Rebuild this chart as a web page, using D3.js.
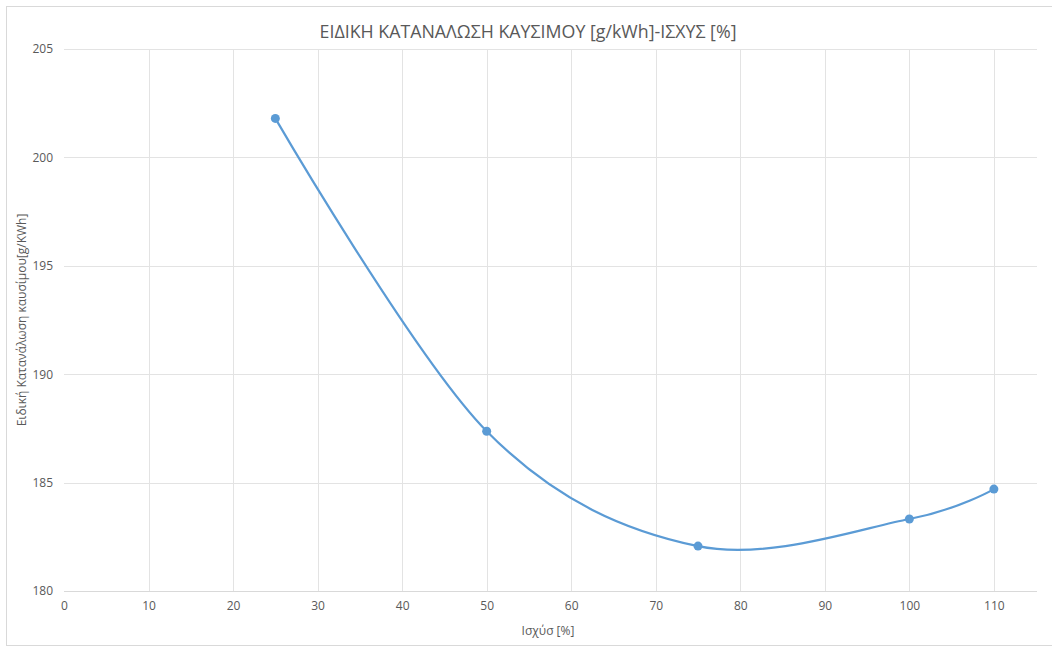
<!DOCTYPE html>
<html>
<head>
<meta charset="utf-8">
<script src="https://cdn.jsdelivr.net/npm/d3@7"></script>
<style>
  body { margin: 0; background: #fff; }
  svg text { font-family: "Open Sans", "Noto Sans", sans-serif; fill: #595959; }
</style>
</head>
<body>
<div id="chart"></div>
<script>
// data
const power = [25, 50, 75, 100, 110];
const consumption = [201.8, 187.37, 182.07, 183.32, 184.7];
const xTicks = [0, 10, 20, 30, 40, 50, 60, 70, 80, 90, 100, 110];
const yTicks = [180, 185, 190, 195, 200, 205];

const titleText = "ΕΙΔΙΚΗ ΚΑΤΑΝΑΛΩΣΗ ΚΑΥΣΙΜΟΥ [g/kWh]-ΙΣΧΥΣ [%]";
const xLabelText = "Ισχύσ [%]";
const yLabelText = "Ειδική Κατανάλωση καυσίμου[g/KWh]";

const W = 1052, H = 646;
const margin = { top: 49, right: 15, bottom: 55, left: 64 };

const svg = d3.select("#chart").append("svg")
    .attr("width", W)
    .attr("height", H);

// chart border
svg.append("rect")
    .attr("x", 6.5).attr("y", 6.5)
    .attr("width", W - 6).attr("height", H - 7)
    .attr("fill", "none")
    .attr("stroke", "#d9d9d9");

const x = d3.scaleLinear().domain([0, 115.1]).range([margin.left, W - margin.right]);
const y = d3.scaleLinear().domain([180, 205]).range([H - margin.bottom, margin.top]);

// gridlines
svg.append("g")
    .selectAll("line")
    .data(yTicks)
    .enter().append("line")
    .attr("x1", x(0)).attr("x2", x.range()[1])
    .attr("y1", d => Math.round(y(d)) + 0.5).attr("y2", d => Math.round(y(d)) + 0.5)
    .attr("stroke", "#e3e3e3");

svg.append("g")
    .selectAll("line")
    .data(xTicks.slice(1))
    .enter().append("line")
    .attr("x1", d => Math.round(x(d)) + 0.5).attr("x2", d => Math.round(x(d)) + 0.5)
    .attr("y1", y(180)).attr("y2", y(205))
    .attr("stroke", "#e3e3e3");

// x axis
const xAxis = svg.append("g")
    .attr("transform", "translate(0," + (Math.round(y(180)) + 0.5) + ")")
    .call(d3.axisBottom(x).tickValues(xTicks).tickSize(0).tickPadding(10));
xAxis.select(".domain").attr("stroke", "#d9d9d9").attr("d", "M" + x(0) + ",0H" + x.range()[1]);
xAxis.selectAll("text").attr("font-size", 12).style("fill", "#595959");

// y axis
const yAxis = svg.append("g")
    .attr("transform", "translate(" + x(0) + ",0)")
    .call(d3.axisLeft(y).tickValues(yTicks).tickSize(0).tickPadding(11));
yAxis.select(".domain").remove();
yAxis.selectAll("text").attr("font-size", 12).style("fill", "#595959");

// smoothed line like the spreadsheet's
const line = d3.line()
    .x(d => x(d[0]))
    .y(d => y(d[1]))
    .curve(d3.curveCatmullRom.alpha(0));

const pts = power.map((p, i) => [p, consumption[i]]);

svg.append("path")
    .datum(pts)
    .attr("d", line)
    .attr("fill", "none")
    .attr("stroke", "#5b9bd5")
    .attr("stroke-width", 2.2);

svg.append("g")
    .selectAll("circle")
    .data(pts)
    .enter().append("circle")
    .attr("cx", d => x(d[0]))
    .attr("cy", d => y(d[1]))
    .attr("r", 4.5)
    .attr("fill", "#5b9bd5");

// title and axis labels
svg.append("text")
    .attr("x", 528).attr("y", 38)
    .attr("text-anchor", "middle")
    .attr("font-size", 17.8)
    .text(titleText);

svg.append("text")
    .attr("x", 548).attr("y", 635)
    .attr("text-anchor", "middle")
    .attr("font-size", 12)
    .text(xLabelText);

svg.append("text")
    .attr("transform", "translate(26," + ((y(180) + y(205)) / 2) + ") rotate(-90)")
    .attr("text-anchor", "middle")
    .attr("font-size", 12)
    .text(yLabelText);
</script>
</body>
</html>
